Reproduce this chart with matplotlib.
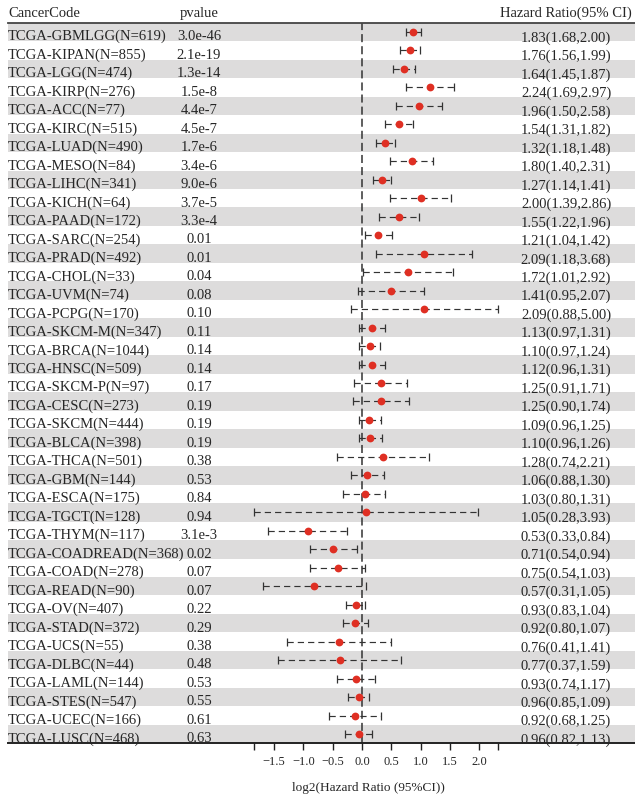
import numpy as np
import matplotlib
matplotlib.use("Agg")
import matplotlib.pyplot as plt
from matplotlib.transforms import blended_transform_factory

# ---------------- data ----------------
codes = ["GBMLGG", "KIPAN", "LGG", "KIRP", "ACC", "KIRC", "LUAD", "MESO", "LIHC",
         "KICH", "PAAD", "SARC", "PRAD", "CHOL", "UVM", "PCPG", "SKCM-M", "BRCA",
         "HNSC", "SKCM-P", "CESC", "SKCM", "BLCA", "THCA", "GBM", "ESCA", "TGCT",
         "THYM", "COADREAD", "COAD", "READ", "OV", "STAD", "UCS", "DLBC", "LAML",
         "STES", "UCEC", "LUSC"]
n_samples = [619, 855, 474, 276, 77, 515, 490, 84, 341, 64, 172, 254, 492, 33, 74,
             170, 347, 1044, 509, 97, 273, 444, 398, 501, 144, 175, 128, 117, 368,
             278, 90, 407, 372, 55, 44, 144, 547, 166, 468]
pvalues = ["3.0e-46", "2.1e-19", "1.3e-14", "1.5e-8", "4.4e-7", "4.5e-7", "1.7e-6",
           "3.4e-6", "9.0e-6", "3.7e-5", "3.3e-4", "0.01", "0.01", "0.04", "0.08",
           "0.10", "0.11", "0.14", "0.14", "0.17", "0.19", "0.19", "0.19", "0.38",
           "0.53", "0.84", "0.94", "3.1e-3", "0.02", "0.07", "0.07", "0.22", "0.29",
           "0.38", "0.48", "0.53", "0.55", "0.61", "0.63"]
hr = [1.83, 1.76, 1.64, 2.24, 1.96, 1.54, 1.32, 1.80, 1.27, 2.00, 1.55, 1.21, 2.09,
      1.72, 1.41, 2.09, 1.13, 1.10, 1.12, 1.25, 1.25, 1.09, 1.10, 1.28, 1.06, 1.03,
      1.05, 0.53, 0.71, 0.75, 0.57, 0.93, 0.92, 0.76, 0.77, 0.93, 0.96, 0.92, 0.96]
hr_low = [1.68, 1.56, 1.45, 1.69, 1.50, 1.31, 1.18, 1.40, 1.14, 1.39, 1.22, 1.04,
          1.18, 1.01, 0.95, 0.88, 0.97, 0.97, 0.96, 0.91, 0.90, 0.96, 0.96, 0.74,
          0.88, 0.80, 0.28, 0.33, 0.54, 0.54, 0.31, 0.83, 0.80, 0.41, 0.37, 0.74,
          0.85, 0.68, 0.82]
hr_high = [2.00, 1.99, 1.87, 2.97, 2.58, 1.82, 1.48, 2.31, 1.41, 2.86, 1.96, 1.42,
           3.68, 2.92, 2.07, 5.00, 1.31, 1.24, 1.31, 1.71, 1.74, 1.25, 1.26, 2.21,
           1.30, 1.31, 3.93, 0.84, 0.94, 1.03, 1.05, 1.04, 1.07, 1.41, 1.59, 1.17,
           1.09, 1.25, 1.13]
xtick_values = [-1.5, -1.0, -0.5, 0.0, 0.5, 1.0, 1.5, 2.0]

# ---------------- style ----------------
plt.rcParams['font.family'] = ['Liberation Serif', 'DejaVu Serif']
plt.rcParams['lines.scale_dashes'] = False
plt.rcParams['axes.unicode_minus'] = True

TXT = '#262626'
W, H = 635, 799
fig = plt.figure(figsize=(W / 100, H / 100), dpi=100)


def fx(px):
    return px / W


def fy(py):
    return 1 - py / H


top_px, bot_px = 22.7, 743.3
left_px = 8
ax = fig.add_axes([0, fy(bot_px), 1, (bot_px - top_px) / H])
zero_px, ppu = 362.0, 58.67
ax.set_xlim((0 - zero_px) / ppu, (W - zero_px) / ppu)
n = len(codes)
ax.set_ylim(n - 0.5, -0.5)
ax.set_facecolor('none')

y = np.arange(n)
lx = np.log2(hr)
llo = np.log2(hr_low)
lhi = np.log2(hr_high)

# alternating row bands
for i in range(0, n, 2):
    ax.axhspan(i - 0.5, i + 0.5, xmin=fx(left_px), xmax=1, color='#dddcdc', lw=0, zorder=0)

# reference line at 0
ax.axvline(0, color='#333333', lw=1.1, dashes=(5.8, 2.9), zorder=2)

# CI bars
eb = ax.errorbar(lx, y, xerr=[lx - llo, lhi - lx], fmt='none', ecolor='#333333',
                 elinewidth=0.85, capsize=2.8, capthick=0.9, zorder=3)
for lc in eb[2]:
    lc.set_linestyle((0, (4.5, 2.9)))
ax.plot(lx, y, 'o', color='#df2f23', ms=5.6, mec='none', zorder=5)

# spines / ticks
for s in ['top', 'left', 'right']:
    ax.spines[s].set_visible(False)
ax.spines['bottom'].set_bounds((left_px - zero_px) / ppu, (W - zero_px) / ppu)
ax.spines['bottom'].set_color('#222222')
ax.spines['bottom'].set_linewidth(1.4)
ticks = [llo.min()] + xtick_values + [lhi.max()]
labels = [''] + [f'{t:.1f}'.replace('-', '\u2212') for t in xtick_values] + ['']
ax.set_xticks(ticks)
ax.set_xticklabels(labels)
ax.tick_params(axis='x', direction='out', length=5, width=1.0, color='#222222',
               labelsize=9, labelcolor=TXT, pad=4.5)
ax.set_yticks([])

# header rule
ax.plot([fx(left_px), 1], [1, 1], transform=ax.transAxes, clip_on=False,
        color='#444444', lw=1.3, zorder=4)

# columns of text
trans = blended_transform_factory(fig.transFigure, ax.transData)
fs = 10.5
for i in range(n):
    ax.text(fx(left_px), i + 0.45, f'TCGA-{codes[i]}(N={n_samples[i]})', transform=trans,
            ha='left', va='baseline', fontsize=fs, color=TXT)
    ax.text(fx(199), i + 0.45, pvalues[i], transform=trans,
            ha='center', va='baseline', fontsize=fs, color=TXT)
    ax.text(fx(566), i + 0.525, f'{hr[i]:.2f}({hr_low[i]:.2f},{hr_high[i]:.2f})',
            transform=trans, ha='center', va='baseline', fontsize=fs, color=TXT)

# headers
fig.text(fx(left_px), fy(16.8), 'CancerCode', ha='left', va='baseline', fontsize=fs, color=TXT)
fig.text(fx(199), fy(16.8), 'pvalue', ha='center', va='baseline', fontsize=fs, color=TXT)
fig.text(fx(566), fy(16.8), 'Hazard Ratio(95% CI)', ha='center', va='baseline', fontsize=fs, color=TXT)

# x label
fig.text(fx(368.5), fy(790.5), 'log2(Hazard Ratio (95%CI))', ha='center', va='baseline',
         fontsize=9.5, color=TXT)

fig.savefig('out.png', dpi=100)
